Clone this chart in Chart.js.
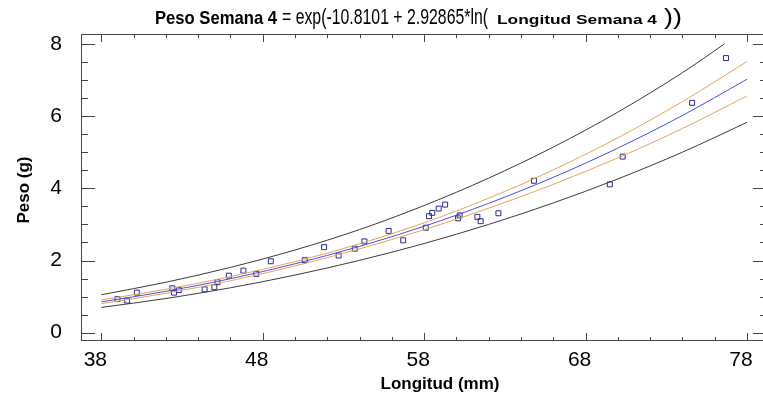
<!DOCTYPE html>
<html>
<head>
<meta charset="utf-8">
<script src="https://cdn.jsdelivr.net/npm/chart.js@4"></script>
<style>
  html, body { margin: 0; padding: 0; background: #fff; overflow: hidden; }
  #wrap { width: 772px; height: 398px; }
</style>
</head>
<body>
<div id="wrap"><canvas id="pesoChart" width="772" height="398"></canvas></div>
<script>
// observed points (Longitud mm, Peso g)
const lengths = [39.0, 39.6, 40.2, 42.4, 42.5, 42.8, 44.4, 45.0, 45.2, 45.9, 46.8, 47.6, 48.5,
  50.6, 51.8, 52.7, 53.7, 54.3, 55.8, 56.7, 58.1, 58.3, 58.5, 58.9, 59.3, 60.2, 60.1,
  61.3, 61.5, 62.6, 64.8, 69.5, 70.3, 74.6, 76.7];
const weights = [0.93, 0.89, 1.11, 1.23, 1.11, 1.18, 1.20, 1.26, 1.40, 1.58, 1.72, 1.63, 1.98,
  2.01, 2.37, 2.14, 2.33, 2.53, 2.82, 2.56, 2.91, 3.23, 3.32, 3.44, 3.55, 3.25, 3.17,
  3.21, 3.09, 3.31, 4.21, 4.11, 4.88, 6.37, 7.61];

// fitted curve and bands
const curveX = [38, 42, 46, 50, 54, 58, 62, 66, 70, 74, 78];
const fitted = [0.855, 1.146, 1.496, 1.910, 2.392, 2.949, 3.585, 4.305, 5.115, 6.019, 7.023];
const confUpper = [0.911, 1.203, 1.556, 1.971, 2.464, 3.046, 3.728, 4.512, 5.401, 6.404, 7.515];
const confLower = [0.804, 1.092, 1.439, 1.851, 2.323, 2.855, 3.449, 4.111, 4.844, 5.658, 6.559];
const predLower = [0.701, 0.947, 1.245, 1.597, 2.005, 2.471, 3.001, 3.595, 4.261, 5.002, 5.829];
const predUpperX = [38, 42, 46, 50, 54, 58, 62, 66, 70, 74, 76.6];
const predUpper = [1.052, 1.398, 1.810, 2.292, 2.858, 3.524, 4.284, 5.144, 6.112, 7.205, 8.0];

const xTicks = [38, 48, 58, 68, 78];
const yTicks = [0, 2, 4, 6, 8];
const xMinor = [40, 42, 44, 46, 50, 52, 54, 56, 60, 62, 64, 66, 70, 72, 74, 76];
const yMinor = [0.5, 1, 1.5, 2.5, 3, 3.5, 4.5, 5, 5.5, 6.5, 7, 7.5];

function pairs(xs, ys) {
    return xs.map((x, i) => ({ x: x, y: ys[i] }));
}

function curve(xs, ys, color) {
    return {
        data: pairs(xs, ys),
        showLine: true,
        borderColor: color,
        borderWidth: 1,
        pointRadius: 0,
        tension: 0,
        cubicInterpolationMode: "monotone",
        fill: false
    };
}

// frame, inward ticks, titles
const framePlugin = {
    id: "frame",
    afterDraw(chart) {
        let c = chart.ctx;
        let a = chart.chartArea;
        let xs = chart.scales.x, ys = chart.scales.y;
        c.save();
        c.strokeStyle = "#444";
        c.lineWidth = 1;
        c.strokeRect(a.left + 0.5, a.top + 0.5, a.right - a.left - 1, a.bottom - a.top - 1);
        c.beginPath();
        xTicks.concat(xMinor).forEach(v => {
            let len = xTicks.includes(v) ? 8 : 4;
            let px = Math.round(xs.getPixelForValue(v)) + 0.5;
            c.moveTo(px, a.bottom); c.lineTo(px, a.bottom - len);
            c.moveTo(px, a.top); c.lineTo(px, a.top + len);
        });
        yTicks.concat(yMinor).forEach(v => {
            let len = yTicks.includes(v) ? 14 : 7;
            let py = Math.round(ys.getPixelForValue(v)) + 0.5;
            c.moveTo(a.left, py); c.lineTo(a.left + len, py);
            c.moveTo(a.right, py); c.lineTo(a.right - len, py);
        });
        c.stroke();

        c.fillStyle = "#000";
        c.textBaseline = "alphabetic";
        c.font = "bold 17px 'Liberation Sans', Arial, sans-serif";
        c.textAlign = "center";
        c.fillText("Longitud (mm)", 440, 389);
        c.translate(29, 190);
        c.rotate(-Math.PI / 2);
        c.fillText("Peso (g)", 0, 0);
        c.restore();

        // title pieces, squeezed to the widths seen in the original
        let parts = [
            ["Peso Semana 4", "bold 19px 'Liberation Sans', Arial, sans-serif", 155, 122],
            ["= exp(-10.8101 + 2.92865*ln(", "22px 'Liberation Sans', Arial, sans-serif", 282, 206],
            ["Longitud Semana 4", "bold 13px 'Liberation Sans', Arial, sans-serif", 497, 160],
            ["))", "22px 'Liberation Sans', Arial, sans-serif", 664, 18]
        ];
        c.save();
        c.fillStyle = "#000";
        c.textAlign = "left";
        parts.forEach(p => {
            c.font = p[1];
            let w = c.measureText(p[0]).width;
            c.save();
            c.translate(p[2], 24);
            c.scale(p[3] / w, 1);
            c.fillText(p[0], 0, 0);
            c.restore();
        });
        c.restore();
    }
};

document.addEventListener("DOMContentLoaded", function () {
    let ctx = document.getElementById("pesoChart").getContext("2d");

    new Chart(ctx, {
        type: "scatter",
        data: {
            datasets: [
                curve(predUpperX, predUpper, "#3a3a3a"),
                curve(curveX, predLower, "#3a3a3a"),
                curve(curveX, confUpper, "#e2a55c"),
                curve(curveX, confLower, "#e2a55c"),
                curve(curveX, fitted, "#4d4ddb"),
                {
                    data: pairs(lengths, weights),
                    pointStyle: "rect",
                    pointRadius: 3.5,
                    borderWidth: 1,
                    borderColor: "#2a2a90",
                    backgroundColor: "rgba(0,0,0,0)",
                    showLine: false
                }
            ]
        },
        options: {
            responsive: false,
            animation: false,
            devicePixelRatio: 1,
            layout: { padding: { top: 34, left: 0, right: 0, bottom: 0 } },
            plugins: {
                legend: { display: false },
                tooltip: { enabled: false },
                title: { display: false }
            },
            scales: {
                x: {
                    type: "linear",
                    min: 36.74,
                    max: 79.24,
                    grid: { display: false, drawTicks: false },
                    border: { display: false },
                    afterBuildTicks: s => { s.ticks = xTicks.map(v => ({ value: v })); },
                    afterFit: s => { s.height = 57; },
                    ticks: {
                        padding: 7,
                        labelOffset: -6,
                        maxRotation: 0,
                        color: "#000",
                        font: { family: "'Liberation Sans', Arial, sans-serif", size: 21 }
                    }
                },
                y: {
                    min: -0.23,
                    max: 8.277,
                    grid: { display: false, drawTicks: false },
                    border: { display: false },
                    afterBuildTicks: s => { s.ticks = yTicks.map(v => ({ value: v })); },
                    afterFit: s => { s.width = 81; },
                    ticks: {
                        padding: 19,
                        color: "#000",
                        font: { family: "'Liberation Sans', Arial, sans-serif", size: 21 }
                    }
                }
            }
        },
        plugins: [framePlugin]
    });
});
</script>
</body>
</html>
